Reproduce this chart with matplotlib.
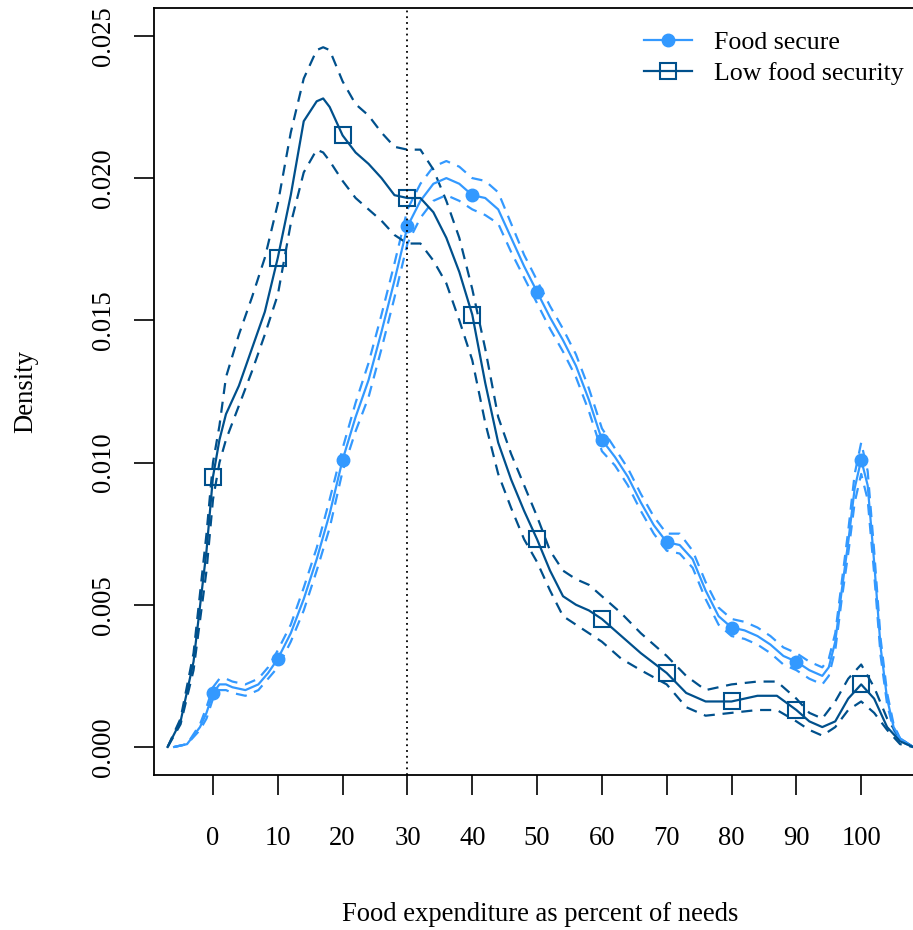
"""Density of food expenditure (% of needs) by food security status, with bands."""

import numpy as np
import matplotlib.pyplot as plt

plt.rcParams["font.family"] = ["Liberation Serif", "DejaVu Serif"]

# Low food security: estimate and dashed band
low_x = [-7, -5, -3, -1, 0, 1, 2, 4, 6, 8, 10, 12, 14, 16, 17, 18, 20, 22, 24, 26,
         28, 30, 32, 34, 36, 38, 40, 42, 44, 46, 48, 50, 52, 54, 56, 58, 60, 63, 66, 70,
         73, 76, 80, 84, 87, 90, 92, 94, 96, 98, 100, 102, 104, 106, 108]
low_mid = [0.0000, 0.0009, 0.0030, 0.0069, 0.0095, 0.0108, 0.0117, 0.0127, 0.0140, 0.0153,
           0.0172, 0.0194, 0.0220, 0.0227, 0.0228, 0.0225, 0.0215, 0.0209, 0.0205, 0.0200,
           0.0194, 0.0193, 0.0193, 0.0188, 0.0179, 0.0167, 0.0152, 0.0128, 0.0107, 0.0094,
           0.0083, 0.0073, 0.0062, 0.0053, 0.0050, 0.0048, 0.0045, 0.0039, 0.0033, 0.0026,
           0.0019, 0.0016, 0.0016, 0.0018, 0.0018, 0.0013, 0.0009, 0.0007, 0.0009, 0.0017,
           0.0022, 0.0017, 0.0007, 0.0002, 0.0000]
low_hi = [0.0000, 0.0010, 0.0033, 0.0075, 0.0100, 0.0113, 0.0130, 0.0145, 0.0158, 0.0172,
          0.0191, 0.0216, 0.0235, 0.0245, 0.0246, 0.0245, 0.0234, 0.0226, 0.0222, 0.0216,
          0.0211, 0.0210, 0.0210, 0.0203, 0.0192, 0.0179, 0.0161, 0.0140, 0.0116, 0.0103,
          0.0092, 0.0081, 0.0069, 0.0062, 0.0059, 0.0057, 0.0053, 0.0047, 0.0040, 0.0032,
          0.0025, 0.0020, 0.0022, 0.0023, 0.0023, 0.0017, 0.0012, 0.0010, 0.0016, 0.0024,
          0.0029, 0.0021, 0.0010, 0.0003, 0.0000]
low_lo = [0.0000, 0.0008, 0.0027, 0.0062, 0.0087, 0.0100, 0.0108, 0.0120, 0.0132, 0.0145,
          0.0159, 0.0184, 0.0202, 0.0210, 0.0209, 0.0206, 0.0199, 0.0193, 0.0189, 0.0185,
          0.0180, 0.0177, 0.0177, 0.0171, 0.0163, 0.0150, 0.0136, 0.0114, 0.0096, 0.0084,
          0.0073, 0.0065, 0.0055, 0.0046, 0.0043, 0.0040, 0.0037, 0.0031, 0.0027, 0.0022,
          0.0014, 0.0011, 0.0012, 0.0013, 0.0013, 0.0009, 0.0006, 0.0004, 0.0007, 0.0013,
          0.0016, 0.0012, 0.0006, 0.0001, 0.0000]

# Food secure: estimate and dashed band
sec_x = [-6, -4, -2, -1, 0, 1, 2, 3, 5, 7, 8.5, 10, 12, 14, 16, 18, 20, 22, 24, 26,
         28, 30, 32, 34, 36, 38, 40, 42, 44, 46, 48, 50, 52, 54, 56, 58, 60, 62, 64, 66,
         68, 70, 72, 74, 76, 78, 80, 82, 84, 86, 88, 90, 92, 94, 95, 96, 97, 98, 99, 100,
         101, 102, 103, 104, 105, 106, 108]
sec_mid = [0.0000, 0.0001, 0.0007, 0.0012, 0.0019, 0.0022, 0.0022, 0.0021, 0.0020, 0.0022,
           0.0026, 0.0031, 0.0040, 0.0052, 0.0066, 0.0082, 0.0101, 0.0116, 0.0129, 0.0146,
           0.0164, 0.0183, 0.0192, 0.0198, 0.0200, 0.0198, 0.0194, 0.0193, 0.0189, 0.0179,
           0.0169, 0.0160, 0.0151, 0.0143, 0.0134, 0.0122, 0.0108, 0.0102, 0.0095, 0.0086,
           0.0078, 0.0072, 0.0071, 0.0066, 0.0055, 0.0046, 0.0042, 0.0041, 0.0039, 0.0036,
           0.0032, 0.0030, 0.0027, 0.0025, 0.0028, 0.0037, 0.0055, 0.0072, 0.0091, 0.0101,
           0.0092, 0.0065, 0.0035, 0.0017, 0.0007, 0.0003, 0.0000]
sec_hi = [0.0000, 0.0001, 0.0008, 0.0014, 0.0021, 0.0024, 0.0024, 0.0023, 0.0022, 0.0024,
          0.0028, 0.0034, 0.0043, 0.0056, 0.0070, 0.0087, 0.0105, 0.0121, 0.0135, 0.0152,
          0.0170, 0.0189, 0.0198, 0.0204, 0.0206, 0.0204, 0.0200, 0.0199, 0.0195, 0.0184,
          0.0173, 0.0164, 0.0155, 0.0147, 0.0138, 0.0126, 0.0112, 0.0105, 0.0098, 0.0089,
          0.0081, 0.0075, 0.0075, 0.0069, 0.0058, 0.0049, 0.0045, 0.0044, 0.0042, 0.0039,
          0.0035, 0.0033, 0.0030, 0.0028, 0.0031, 0.0040, 0.0058, 0.0076, 0.0096, 0.0107,
          0.0097, 0.0069, 0.0038, 0.0019, 0.0008, 0.0003, 0.0000]
sec_lo = [0.0000, 0.0001, 0.0006, 0.0010, 0.0017, 0.0020, 0.0020, 0.0019, 0.0018, 0.0020,
          0.0024, 0.0028, 0.0037, 0.0048, 0.0062, 0.0077, 0.0097, 0.0111, 0.0123, 0.0140,
          0.0158, 0.0177, 0.0186, 0.0192, 0.0194, 0.0192, 0.0189, 0.0187, 0.0184, 0.0174,
          0.0165, 0.0156, 0.0147, 0.0139, 0.0130, 0.0118, 0.0104, 0.0099, 0.0092, 0.0083,
          0.0075, 0.0069, 0.0068, 0.0063, 0.0052, 0.0043, 0.0039, 0.0038, 0.0036, 0.0033,
          0.0029, 0.0027, 0.0024, 0.0022, 0.0025, 0.0034, 0.0052, 0.0068, 0.0086, 0.0096,
          0.0087, 0.0061, 0.0032, 0.0015, 0.0006, 0.0002, 0.0000]

x_ticks = [0, 10, 20, 30, 40, 50, 60, 70, 80, 90, 100]
y_ticks = [0.000, 0.005, 0.010, 0.015, 0.020, 0.025]
cutoff = 30

light = "#3399ff"
dark = "#00508c"
dash = (0, (5, 3.5))
fs = 19.2

W, H = 913, 930
fig = plt.figure(figsize=(W / 100, H / 100), dpi=100)
x0, x1 = -9.1, 110.0
ax = fig.add_axes([154 / W, 155 / H, (926 - 154) / W, (775 - 8) / H])


def every_ten(xs):
    return [i for i, v in enumerate(xs) if v in x_ticks]


for ys in (sec_hi, sec_lo):
    ax.plot(sec_x, ys, color=light, lw=1.6, linestyle=dash)
for ys in (low_hi, low_lo):
    ax.plot(low_x, ys, color=dark, lw=1.6, linestyle=dash)

ax.plot(sec_x, sec_mid, color=light, lw=1.6, marker="o", ms=9,
        markevery=every_ten(sec_x), label="Food secure")
ax.plot(low_x, low_mid, color=dark, lw=1.6, marker="s", ms=12, mfc="none", mew=1.5,
        markevery=every_ten(low_x), label="Low food security")

ax.axvline(cutoff, color="black", lw=1.3, linestyle=(0, (1, 2.2)))

ax.set_xlim(x0, x1)
ax.set_ylim(-0.000985, 0.02598)
ax.set_xticks(x_ticks)
ax.set_yticks(y_ticks)
ax.set_yticklabels([f"{v:.3f}" for v in y_ticks], rotation=90, va="center")
ax.tick_params(direction="out", length=14.4, width=1.2, labelsize=fs)
ax.tick_params(axis="x", pad=22)
ax.tick_params(axis="y", pad=13)
for s in ax.spines.values():
    s.set_linewidth(1.3)

ax.set_xlabel("Food expenditure as percent of needs", fontsize=fs, labelpad=37)
ax.set_ylabel("Density", fontsize=fs, labelpad=38)

ax.legend(loc="upper left", bbox_to_anchor=(644 / W, (H - 31) / H),
          bbox_transform=fig.transFigure, frameon=False, fontsize=18.6,
          borderpad=0, borderaxespad=0, handlelength=1.85, handletextpad=0.85,
          labelspacing=0.3)

fig.savefig("out.png", dpi=100)
